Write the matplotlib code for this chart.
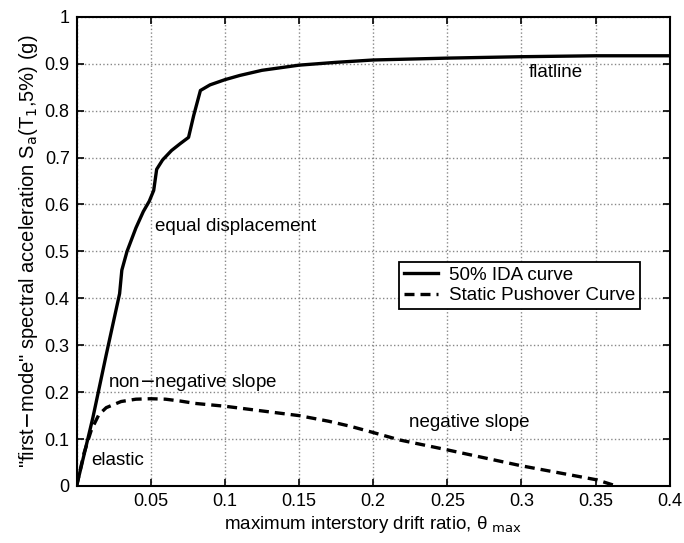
import numpy as np
import matplotlib.pyplot as plt

plt.rcParams['font.family'] = ['Liberation Sans', 'DejaVu Sans']

# 50% IDA curve
ida_x = [0.0, 0.011, 0.02, 0.029, 0.0305, 0.034, 0.04, 0.045, 0.049, 0.052, 0.054,
         0.058, 0.064, 0.07, 0.0755, 0.079, 0.0835, 0.09, 0.1, 0.11, 0.125, 0.15,
         0.175, 0.2, 0.25, 0.3, 0.35, 0.4]
ida_y = [0.0, 0.146, 0.28, 0.41, 0.46, 0.50, 0.55, 0.585, 0.607, 0.63, 0.675,
         0.695, 0.715, 0.73, 0.743, 0.79, 0.843, 0.855, 0.866, 0.875, 0.886, 0.897,
         0.903, 0.908, 0.912, 0.915, 0.917, 0.917]

# static pushover curve
spo_x = [0.0, 0.005, 0.01, 0.015, 0.02, 0.03, 0.04, 0.05, 0.06, 0.07, 0.08, 0.1,
         0.12, 0.15, 0.17, 0.185, 0.2, 0.218, 0.25, 0.3, 0.351, 0.364]
spo_y = [0.0, 0.07, 0.12, 0.152, 0.167, 0.18, 0.185, 0.186, 0.185, 0.181, 0.176, 0.17,
         0.162, 0.15, 0.138, 0.127, 0.114, 0.098, 0.077, 0.043, 0.013, 0.0]

xticks = [0, 0.05, 0.1, 0.15, 0.2, 0.25, 0.3, 0.35, 0.4]
xlabels = ['', '0.05', '0.1', '0.15', '0.2', '0.25', '0.3', '0.35', '0.4']
yticks = [0, 0.1, 0.2, 0.3, 0.4, 0.5, 0.6, 0.7, 0.8, 0.9, 1]
ylabels = ['0', '0.1', '0.2', '0.3', '0.4', '0.5', '0.6', '0.7', '0.8', '0.9', '1']

fig = plt.figure(figsize=(6.84, 5.43), dpi=100)
ax = fig.add_axes([0.112, 0.105, 0.867, 0.864])

ax.plot(ida_x, ida_y, color='black', lw=2.4, label='50% IDA curve')
ax.plot(spo_x, spo_y, color='black', lw=2.4, ls=(0, (3, 1.8)), label='Static Pushover Curve')

ax.set_xlim(0, 0.4)
ax.set_ylim(0, 1)
ax.set_xticks(xticks)
ax.set_xticklabels(xlabels)
ax.set_yticks(yticks)
ax.set_yticklabels(ylabels)
ax.tick_params(direction='in', top=True, right=True, labelsize=13, length=5, width=1.2, pad=5)
for s in ax.spines.values():
    s.set_linewidth(1.5)
ax.grid(True, ls=':', color='#888888', lw=1)

ax.set_xlabel('maximum interstory drift ratio, θ $_{\\rm max}$', fontsize=13.5, labelpad=3)
ax.set_ylabel(r'"first$-$mode" spectral acceleration S$_{\rm a}$(T$_{\rm 1}$,5%) (g)', fontsize=14.5, labelpad=3)

ax.text(0.305, 0.882, 'flatline', fontsize=13.5, va='center')
ax.text(0.053, 0.553, 'equal displacement', fontsize=13.5, va='center')
ax.text(0.021, 0.22, 'non$-$negative slope', fontsize=13.5, va='center')
ax.text(0.224, 0.136, 'negative slope', fontsize=13.5, va='center')
ax.text(0.0101, 0.055, 'elastic', fontsize=13.5, va='center')

leg = ax.legend(loc='upper left', bbox_to_anchor=(0.544, 0.478), fontsize=13.5,
                fancybox=False, edgecolor='black', framealpha=1, handlelength=1.8,
                handletextpad=0.6, borderpad=0.25, labelspacing=0.2, borderaxespad=0)
leg.get_frame().set_linewidth(1.3)

fig.savefig('out.png', dpi=100)
